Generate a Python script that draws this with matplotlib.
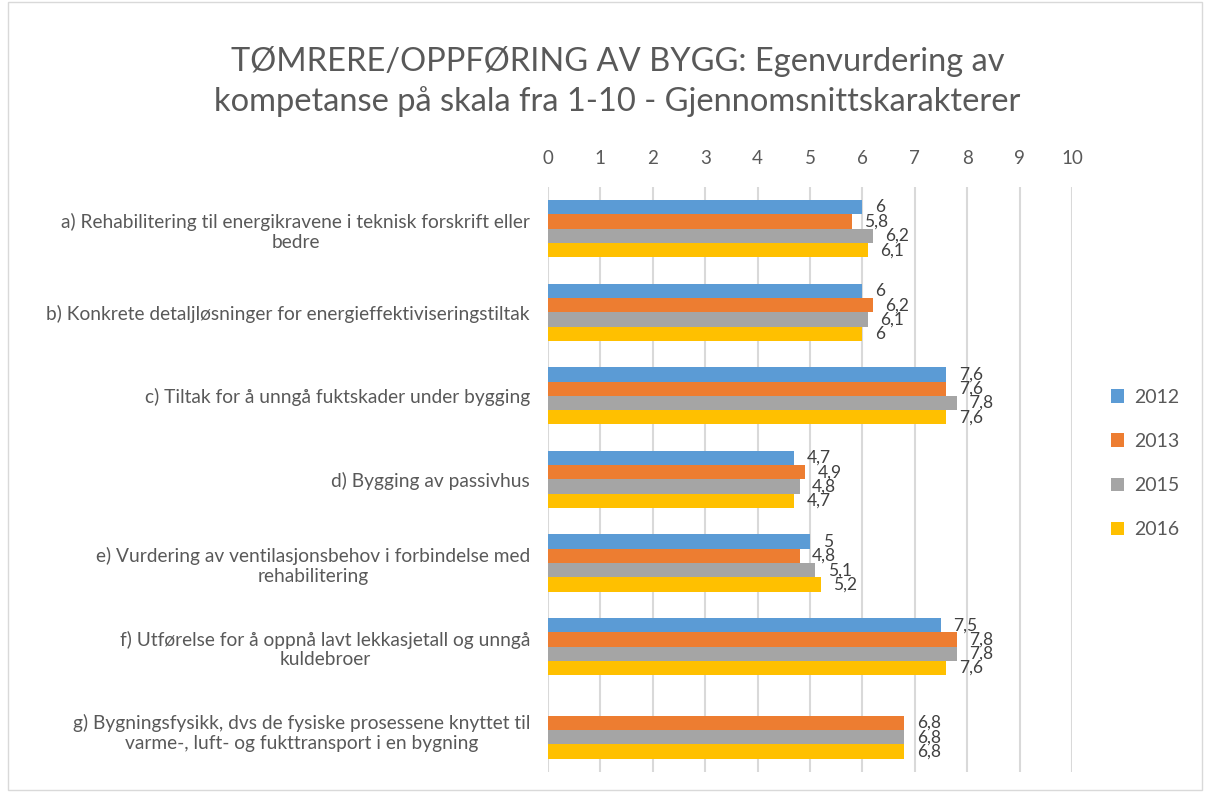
import numpy as np
import matplotlib.pyplot as plt
from matplotlib.patches import Rectangle

categories = [
    "a) Rehabilitering til energikravene i teknisk forskrift eller\nbedre",
    "b) Konkrete detaljløsninger for energieffektiviseringstiltak",
    "c) Tiltak for å unngå fuktskader under bygging",
    "d) Bygging av passivhus",
    "e) Vurdering av ventilasjonsbehov i forbindelse med\nrehabilitering",
    "f) Utførelse for å oppnå lavt lekkasjetall og unngå\nkuldebroer",
    "g) Bygningsfysikk, dvs de fysiske prosessene knyttet til\nvarme-, luft- og fukttransport i en bygning",
]
years = ["2012", "2013", "2015", "2016"]
v2012 = [6.0, 6.0, 7.6, 4.7, 5.0, 7.5, np.nan]
v2013 = [5.8, 6.2, 7.6, 4.9, 4.8, 7.8, 6.8]
v2015 = [6.2, 6.1, 7.8, 4.8, 5.1, 7.8, 6.8]
v2016 = [6.1, 6.0, 7.6, 4.7, 5.2, 7.6, 6.8]
series = [v2012, v2013, v2015, v2016]
colors = ["#5b9bd5", "#ed7d31", "#a5a5a5", "#ffc000"]

plt.rcParams['font.family'] = ['Lato', 'DejaVu Sans']
text_col = "#595959"

fig = plt.figure(figsize=(12.06, 7.92), dpi=100)
ax = fig.add_axes([0.4544, 0.0253, 0.889 - 0.4544, 0.764 - 0.0253])

y = np.arange(len(categories))
h = 0.171
for i, (vals, col, yr) in enumerate(zip(series, colors, years)):
    pos = y + (i - 1.5) * h
    ax.barh(pos, vals, height=h, color=col, label=yr, zorder=3)
    for p, v in zip(pos, vals):
        if np.isnan(v):
            continue
        ax.annotate(f"{v:g}".replace('.', ','), xy=(v, p), xytext=(9, 0),
                    textcoords='offset points', ha='left', va='center',
                    fontsize=12.5, color="#404040")

ax.set_xlim(0, 10)
ax.set_ylim(len(categories) - 0.5, -0.5)
ax.set_xticks(range(11))
ax.xaxis.tick_top()
ax.tick_params(axis='x', length=0, labelsize=13.5, labelcolor=text_col, pad=14)
ax.tick_params(axis='y', length=0, labelsize=13.8, labelcolor=text_col, pad=13)
ax.set_yticks(y)
ax.set_yticklabels(categories)
for t in ax.get_yticklabels():
    t.set_multialignment('center')
ax.grid(axis='x', color='#d9d9d9', linewidth=1.5, zorder=0)
for s in ax.spines.values():
    s.set_visible(False)

ax.legend(loc='center left', bbox_to_anchor=(1.04, 0.527), frameon=False,
          fontsize=14, labelcolor=text_col, handlelength=0.7, handleheight=0.7,
          handletextpad=0.5, labelspacing=1.4)

fig.text(0.512, 0.897, "TØMRERE/OPPFØRING AV BYGG: Egenvurdering av\nkompetanse på skala fra 1-10 - Gjennomsnittskarakterer",
         ha='center', va='center', fontsize=23.5, color=text_col, linespacing=1.35)

fig.patches.append(Rectangle((0.007, 0.003), 0.99, 0.994, transform=fig.transFigure,
                             fill=False, edgecolor='#d9d9d9', linewidth=1))

fig.savefig("out.png", dpi=100)
